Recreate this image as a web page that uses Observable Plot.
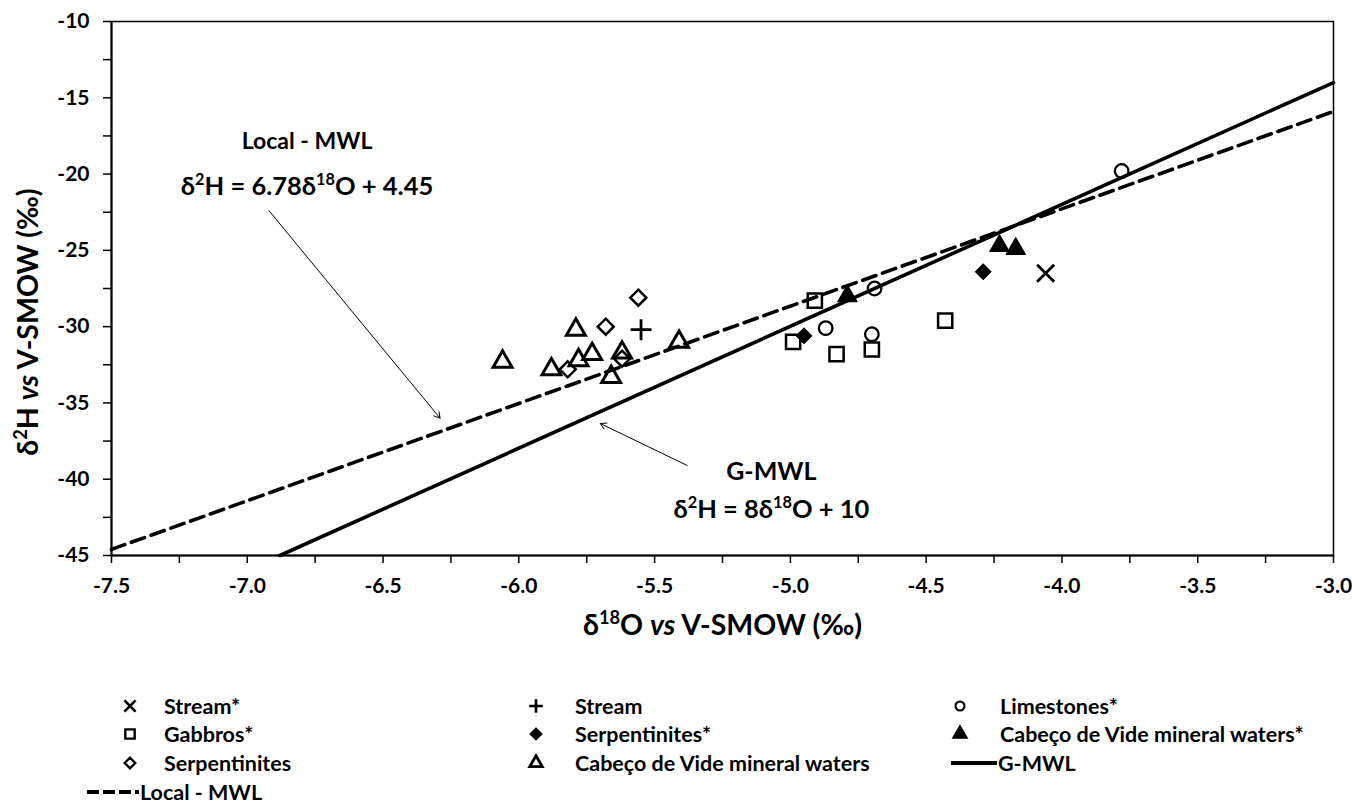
<!DOCTYPE html>
<html>
<head>
<meta charset="utf-8">
<script src="https://cdn.jsdelivr.net/npm/d3@7"></script>
<script src="https://cdn.jsdelivr.net/npm/@observablehq/plot@0.6"></script>
<style>
  html, body { margin: 0; padding: 0; background: #fff; overflow: hidden; }
  #wrap { position: relative; width: 1352px; height: 806px; font-family: Lato, "Open Sans", sans-serif; }
  #legend { position: relative; width: 1352px; height: 136px; }
  .lg-sym { position: absolute; }
  .lg-txt { position: absolute; font-weight: bold; font-size: 21.5px; line-height: 24px; white-space: nowrap; color: #000; }
</style>
</head>
<body>
<div id="wrap">
  <div id="chart"></div>
  <div id="legend"></div>
</div>
<script>
// ---- Data ----
const streamStarX = [-4.06];
const streamStarY = [-26.5];

const streamX = [-5.55];
const streamY = [-30.2];

const limestonesStarX = [-3.78, -4.69, -4.87, -4.70];
const limestonesStarY = [-19.8, -27.5, -30.1, -30.5];

const gabbrosStarX = [-4.91, -4.99, -4.83, -4.70, -4.43];
const gabbrosStarY = [-28.3, -31.0, -31.8, -31.5, -29.6];

const serpStarX = [-4.95, -4.29];
const serpStarY = [-30.6, -26.4];

const cabecoStarX = [-4.79, -4.23, -4.17];
const cabecoStarY = [-28.0, -24.7, -24.9];

const serpX = [-5.56, -5.68, -5.82, -5.62];
const serpY = [-28.1, -30.0, -32.8, -32.1];

const cabecoX = [-6.06, -5.79, -5.88, -5.78, -5.73, -5.62, -5.66, -5.41];
const cabecoY = [-32.3, -30.2, -32.8, -32.2, -31.8, -31.7, -33.3, -31.0];

// Meteoric water lines (end points)
const gmwlX = [-6.88, -3.0];
const gmwlY = [-45.0, -14.0];
const lmwlX = [-7.5, -3.0];
const lmwlY = [-44.6, -15.9];

// Axis ticks
const xTicks = d3.range(0, 19).map(i => -7.5 + i * 0.25);
const yTicks = d3.range(0, 15).map(i => -45 + i * 2.5);

// Texts
const xLabel = "δ^{18}O *vs* V-SMOW (‰)";
const yLabel = "δ^{2}H *vs* V-SMOW (‰)";
const localTitle = "Local - MWL";
const localEq = "δ^{2}H = 6.78δ^{18}O + 4.45";
const gTitle = "G-MWL";
const gEq = "δ^{2}H = 8δ^{18}O + 10";

// Annotation anchors (data coordinates)
const localAnchor = {x: -6.78, y: -19.3};
const gAnchor = {x: -5.07, y: -40.8};
const localArrow = {x1: -6.92, y1: -22.4, x2: -6.29, y2: -36.0};
const gArrow = {x1: -5.38, y1: -39.1, x2: -5.70, y2: -36.35};
const yLabelAnchor = {x: -7.806, y: -29.7};

const series = [
  {name: "Stream*", x: streamStarX, y: streamStarY, symbol: "times", fill: "none", r: 7.8, sw: 2.8},
  {name: "Stream", x: streamX, y: streamY, symbol: "plus", fill: "none", r: 6.8, sw: 2.8},
  {name: "Limestones*", x: limestonesStarX, y: limestonesStarY, symbol: "circle", fill: "none", r: 6.8, sw: 2.3},
  {name: "Gabbros*", x: gabbrosStarX, y: gabbrosStarY, symbol: "square", fill: "none", r: 8, sw: 2.5},
  {name: "Serpentinites*", x: serpStarX, y: serpStarY, symbol: "diamond2", fill: "black", r: 7.2, sw: 1},
  {name: "Cabeço de Vide mineral waters*", x: cabecoStarX, y: cabecoStarY, symbol: "triangle", fill: "black", r: 7.3, sw: 1},
  {name: "Serpentinites", x: serpX, y: serpY, symbol: "diamond2", fill: "none", r: 7.2, sw: 2.5},
  {name: "Cabeço de Vide mineral waters", x: cabecoX, y: cabecoY, symbol: "triangle", fill: "none", r: 7, sw: 3}
];

const pts = s => s.x.map((x, i) => ({x, y: s.y[i]}));
const isMajor = (v, step) => Math.abs(v / step - Math.round(v / step)) < 1e-6;

const chart = Plot.plot({
  width: 1352,
  height: 670,
  marginTop: 21,
  marginBottom: 115,
  marginLeft: 111,
  marginRight: 19,
  style: {fontFamily: "Lato, 'Open Sans', sans-serif", background: "white", color: "black"},
  x: {domain: [-7.5, -3.0]},
  y: {domain: [-45, -10]},
  marks: [
    Plot.frame({stroke: "black", strokeWidth: 1.5}),
    Plot.axisX({ticks: xTicks, tickFormat: d => isMajor(d, 0.5) ? d.toFixed(1) : "", tickSize: 8, tickPadding: 15,
      fontSize: 21, fontWeight: "bold", strokeWidth: 1.5, label: null}),
    Plot.axisY({ticks: yTicks, tickFormat: d => isMajor(d, 5) ? String(d) : "", tickSize: 8, tickPadding: 14,
      fontSize: 21, fontWeight: "bold", strokeWidth: 1.5, label: null}),
    Plot.ruleX([-7.5], {strokeWidth: 2}),
    Plot.ruleY([-45], {strokeWidth: 2}),
    Plot.line(gmwlX.map((x, i) => ({x, y: gmwlY[i]})), {x: "x", y: "y", stroke: "black", strokeWidth: 3.6}),
    Plot.line(lmwlX.map((x, i) => ({x, y: lmwlY[i]})), {x: "x", y: "y", stroke: "black", strokeWidth: 3.6, strokeDasharray: "14,7"}),
    ...series.map(s => Plot.dot(pts(s), {x: "x", y: "y", symbol: s.symbol, r: s.r, fill: s.fill,
      stroke: "black", strokeWidth: s.sw})),
    Plot.arrow([localArrow], {x1: "x1", y1: "y1", x2: "x2", y2: "y2", stroke: "black", strokeWidth: 1, headLength: 10}),
    Plot.arrow([gArrow], {x1: "x1", y1: "y1", x2: "x2", y2: "y2", stroke: "black", strokeWidth: 1, headLength: 10}),
    Plot.text([localTitle], {x: localAnchor.x, y: localAnchor.y, dy: -22, text: d => d, fontSize: 23, fontWeight: "bold"}),
    Plot.text([localEq], {x: localAnchor.x, y: localAnchor.y, dy: 23, text: d => d, fontSize: 25.5, fontWeight: "bold"}),
    Plot.text([gTitle], {x: gAnchor.x, y: gAnchor.y, dy: -19, text: d => d, fontSize: 25, fontWeight: "bold"}),
    Plot.text([gEq], {x: gAnchor.x, y: gAnchor.y, dy: 18, text: d => d, fontSize: 25.5, fontWeight: "bold"}),
    Plot.text([xLabel], {frameAnchor: "bottom", dy: 79, text: d => d, fontSize: 28.5, fontWeight: "bold"}),
    Plot.text([yLabel], {x: yLabelAnchor.x, y: yLabelAnchor.y, rotate: -90, text: d => d, fontSize: 28.5, fontWeight: "bold"})
  ]
});
document.getElementById("chart").appendChild(chart);

// Rich text: ^{..} superscript, *..* italic
function richify(textEl) {
  const s = textEl.textContent;
  if (!/[\^*]/.test(s)) return false;
  const fs = parseFloat(textEl.getAttribute("font-size") || getComputedStyle(textEl).fontSize) || 20;
  const re = /\^\{([^}]*)\}|\*([^*]*)\*|([^^*]+)/g;
  const parts = [];
  let m;
  while ((m = re.exec(s))) {
    if (m[1] !== undefined) parts.push({t: m[1], sup: true});
    else if (m[2] !== undefined) parts.push({t: m[2], it: true});
    else parts.push({t: m[3]});
  }
  while (textEl.firstChild) textEl.removeChild(textEl.firstChild);
  const ns = "http://www.w3.org/2000/svg";
  let shifted = false;
  const rise = fs * 0.38;
  parts.forEach(p => {
    const ts = document.createElementNS(ns, "tspan");
    ts.textContent = p.t;
    if (p.sup) {
      ts.setAttribute("font-size", fs * 0.64);
      ts.setAttribute("dy", -rise);
      shifted = true;
    } else {
      if (shifted) { ts.setAttribute("dy", rise); shifted = false; }
      if (p.it) ts.setAttribute("font-style", "italic");
    }
    textEl.appendChild(ts);
  });
  return true;
}
chart.querySelectorAll("text").forEach(richify);

// ---- Legend ----
const legendRows = [36, 64, 93, 122];
const legendItems = [
  {s: 0, col: 0, row: 0}, {s: 1, col: 1, row: 0}, {s: 2, col: 2, row: 0},
  {s: 3, col: 0, row: 1}, {s: 4, col: 1, row: 1}, {s: 5, col: 2, row: 1},
  {s: 6, col: 0, row: 2}, {s: 7, col: 1, row: 2}, {line: "G-MWL", dash: false, col: 2, row: 2},
  {line: "Local - MWL", dash: true, col: 0, row: 3}
];
const colSym = [130, 536, 960];
const colTxt = [164, 575, 1000];
const symMap = {times: d3.symbolTimes, plus: d3.symbolPlus, circle: d3.symbolCircle, square: d3.symbolSquare,
  diamond2: d3.symbolDiamond2, triangle: d3.symbolTriangle};
const legend = d3.select("#legend");
legendItems.forEach(it => {
  const cy = legendRows[it.row];
  if (it.line) {
    const x0 = it.dash ? 87 : 951, x1 = it.dash ? 139 : 997;
    const svg = legend.append("svg").attr("class", "lg-sym").attr("width", x1 - x0).attr("height", 10)
      .style("left", x0 + "px").style("top", (cy - 5) + "px");
    svg.append("line").attr("x1", 0).attr("x2", x1 - x0).attr("y1", 5).attr("y2", 5)
      .attr("stroke", "black").attr("stroke-width", 4).attr("stroke-dasharray", it.dash ? "12,4" : null);
    legend.append("div").attr("class", "lg-txt").style("left", (x1 + 1) + "px").style("top", (cy - 12) + "px").text(it.line);
  } else {
    const s = series[it.s];
    const cx = colSym[it.col];
    const svg = legend.append("svg").attr("class", "lg-sym").attr("width", 20).attr("height", 20)
      .style("left", (cx - 10) + "px").style("top", (cy - 10) + "px");
    const rr = s.r * 0.66;
    svg.append("path").attr("transform", "translate(10,10)")
      .attr("d", d3.symbol(symMap[s.symbol], rr * rr * Math.PI)())
      .attr("fill", s.fill).attr("stroke", "black").attr("stroke-width", Math.max(2.2, s.sw * 0.95));
    legend.append("div").attr("class", "lg-txt").style("left", colTxt[it.col] + "px").style("top", (cy - 12) + "px").text(s.name);
  }
});
</script>
</body>
</html>
